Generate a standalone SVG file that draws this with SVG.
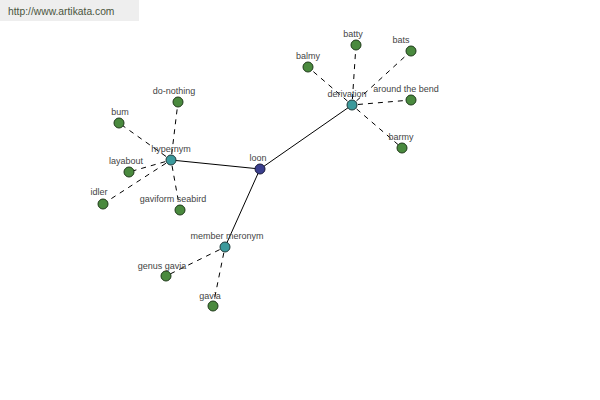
<svg xmlns="http://www.w3.org/2000/svg" width="600" height="400" viewBox="0 0 600 400">
<style>
text{font-family:"Liberation Sans",Arial,sans-serif;font-size:9px;fill:#444;text-anchor:middle}
.leaf{fill:#4a8a3e;stroke:#1f3a1a;stroke-width:1}
.hub{fill:#3c9a9c;stroke:#1f3a3a;stroke-width:1}
.root{fill:#3b3f8e;stroke:#1a1a3a;stroke-width:1}
.solid{stroke:#000;stroke-width:1;fill:none}
.dash{stroke:#000;stroke-width:1;fill:none;stroke-dasharray:5,5;stroke-dashoffset:-6}
</style>
<rect x="0" y="0" width="139" height="21" fill="#eeeeee"/>
<text x="8" y="15" style="text-anchor:start;font-size:10.3px;fill:#4b5540">http://www.artikata.com</text>
<g id="connectors">
<line class="solid" x1="260" y1="169" x2="171" y2="160"/>
<line class="solid" x1="260" y1="169" x2="352" y2="105"/>
<line class="solid" x1="260" y1="169" x2="225" y2="247"/>
<line class="dash" x1="171" y1="160" x2="178" y2="102"/>
<line class="dash" x1="171" y1="160" x2="119" y2="123"/>
<line class="dash" x1="171" y1="160" x2="129" y2="172"/>
<line class="dash" x1="171" y1="160" x2="103" y2="204"/>
<line class="dash" x1="171" y1="160" x2="180" y2="210"/>
<line class="dash" x1="352" y1="105" x2="308" y2="67"/>
<line class="dash" x1="352" y1="105" x2="356" y2="45"/>
<line class="dash" x1="352" y1="105" x2="411" y2="51"/>
<line class="dash" x1="352" y1="105" x2="411" y2="100"/>
<line class="dash" x1="352" y1="105" x2="402" y2="148"/>
<line class="dash" x1="225" y1="247" x2="166" y2="276"/>
<line class="dash" x1="225" y1="247" x2="213" y2="306"/>
</g>
<g id="loon"><circle class="root" cx="260" cy="169" r="5"/><text x="258" y="161">loon</text></g>
<g id="hypernym"><circle class="hub" cx="171" cy="160" r="5"/><text x="171" y="152">hypernym</text></g>
<g id="derivation"><circle class="hub" cx="352" cy="105" r="5"/><text x="347" y="97">derivation</text></g>
<g id="member-meronym"><circle class="hub" cx="225" cy="247" r="5"/><text x="227" y="239">member meronym</text></g>
<g id="do-nothing"><circle class="leaf" cx="178" cy="102" r="5"/><text x="174" y="94">do-nothing</text></g>
<g id="bum"><circle class="leaf" cx="119" cy="123" r="5"/><text x="120" y="115">bum</text></g>
<g id="layabout"><circle class="leaf" cx="129" cy="172" r="5"/><text x="126" y="164">layabout</text></g>
<g id="idler"><circle class="leaf" cx="103" cy="204" r="5"/><text x="99" y="195">idler</text></g>
<g id="gaviform-seabird"><circle class="leaf" cx="180" cy="210" r="5"/><text x="173" y="202">gaviform seabird</text></g>
<g id="balmy"><circle class="leaf" cx="308" cy="67" r="5"/><text x="308" y="59">balmy</text></g>
<g id="batty"><circle class="leaf" cx="356" cy="45" r="5"/><text x="353" y="37">batty</text></g>
<g id="bats"><circle class="leaf" cx="411" cy="51" r="5"/><text x="401" y="43">bats</text></g>
<g id="around-the-bend"><circle class="leaf" cx="411" cy="100" r="5"/><text x="406" y="92">around the bend</text></g>
<g id="barmy"><circle class="leaf" cx="402" cy="148" r="5"/><text x="401" y="140">barmy</text></g>
<g id="genus-gavia"><circle class="leaf" cx="166" cy="276" r="5"/><text x="162" y="269">genus gavia</text></g>
<g id="gavia"><circle class="leaf" cx="213" cy="306" r="5"/><text x="210" y="299">gavia</text></g>
</svg>
